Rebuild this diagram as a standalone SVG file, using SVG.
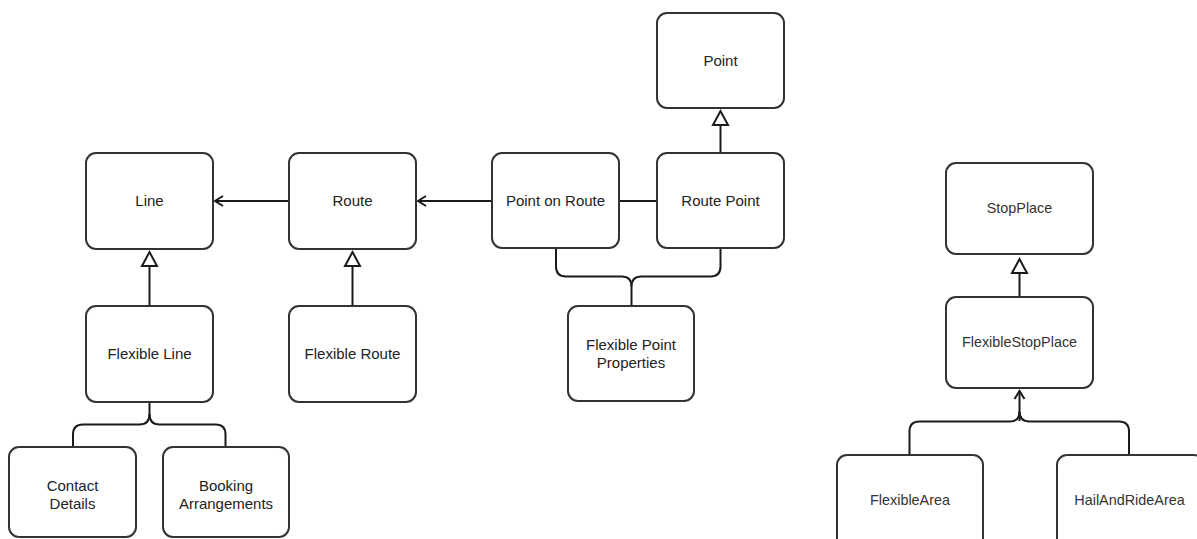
<svg xmlns="http://www.w3.org/2000/svg" width="1197" height="539" viewBox="0 0 1197 539">
  <style>
    .box { fill: #ffffff; stroke: #333333; stroke-width: 2; }
    .lbl { font-family: "Liberation Sans", Arial, sans-serif; font-size: 15px; fill: #222222; text-anchor: middle; }
    .lbl2 { font-family: "Liberation Sans", Arial, sans-serif; font-size: 14.4px; fill: #333333; text-anchor: middle; }
    .edge { fill: none; stroke: #1a1a1a; stroke-width: 2; }
  </style>
  <defs>
    <!-- hollow triangle for generalisation -->
    <marker id="gen" markerUnits="userSpaceOnUse" markerWidth="20" markerHeight="20" viewBox="-2 -2 20 20" refX="14" refY="7.5" orient="auto" overflow="visible">
      <path d="M0,0 L14,7.5 L0,15 Z" fill="#ffffff" stroke="#1a1a1a" stroke-width="2" stroke-linejoin="miter"/>
    </marker>
    <!-- open arrowhead for association -->
    <marker id="open" markerUnits="userSpaceOnUse" markerWidth="14" markerHeight="14" viewBox="-2 -2 14 14" refX="8" refY="5" orient="auto" overflow="visible">
      <path d="M0,0 L8,5 L0,10" fill="none" stroke="#1a1a1a" stroke-width="2"/>
    </marker>
  </defs>

  <g id="connectors">
    <!-- associations -->
    <path class="edge" d="M289,201 H215" marker-end="url(#open)"/>
    <path class="edge" d="M492,201 H418" marker-end="url(#open)"/>
    <path class="edge" d="M619,201 H657"/>
    <path class="edge" d="M1019.5,421 V391" marker-end="url(#open)"/>
    <!-- generalisations -->
    <path class="edge" d="M149.5,306 V252" marker-end="url(#gen)"/>
    <path class="edge" d="M352.5,306 V252" marker-end="url(#gen)"/>
    <path class="edge" d="M720.5,153 V111" marker-end="url(#gen)"/>
    <path class="edge" d="M1019.5,297 V259" marker-end="url(#gen)"/>
    <!-- Flexible Line composition fan-out -->
    <path class="edge" d="M149.5,402 V414 Q149.5,424.5 139.5,424.5 H83 Q73,424.5 73,434.5 V447"/>
    <path class="edge" d="M149.5,414 Q149.5,424.5 159.5,424.5 H215.5 Q225.5,424.5 225.5,434.5 V447"/>
    <!-- Flexible Point Properties fan-in -->
    <path class="edge" d="M556,248 V266.5 Q556,276.5 566,276.5 H621.5 Q631.5,276.5 631.5,286.5 V306"/>
    <path class="edge" d="M720.5,248 V266.5 Q720.5,276.5 710.5,276.5 H641.5 Q631.5,276.5 631.5,286.5"/>
    <!-- area fan-in to FlexibleStopPlace -->
    <path class="edge" d="M909.5,455 V431.5 Q909.5,421.5 919.5,421.5 H1009.5 Q1019.5,421.5 1019.5,411.5"/>
    <path class="edge" d="M1129,455 V431.5 Q1129,421.5 1119,421.5 H1029.5 Q1019.5,421.5 1019.5,411.5"/>
  </g>

  <g id="node-line">
    <rect class="box" x="86" y="153" width="127" height="96" rx="10"/>
    <text class="lbl" x="149.5" y="206">Line</text>
  </g>
  <g id="node-route">
    <rect class="box" x="289" y="153" width="127" height="96" rx="10"/>
    <text class="lbl" x="352.5" y="206">Route</text>
  </g>
  <g id="node-point-on-route">
    <rect class="box" x="492" y="153" width="127" height="95" rx="10"/>
    <text class="lbl" x="555.5" y="206">Point on Route</text>
  </g>
  <g id="node-route-point">
    <rect class="box" x="657" y="153" width="127" height="95" rx="10"/>
    <text class="lbl" x="720.5" y="206">Route Point</text>
  </g>
  <g id="node-point">
    <rect class="box" x="657" y="13" width="127" height="95" rx="10"/>
    <text class="lbl" x="720.5" y="66">Point</text>
  </g>
  <g id="node-flexible-line">
    <rect class="box" x="86" y="306" width="127" height="96" rx="10"/>
    <text class="lbl" x="149.5" y="359">Flexible Line</text>
  </g>
  <g id="node-flexible-route">
    <rect class="box" x="289" y="306" width="127" height="96" rx="10"/>
    <text class="lbl" x="352.5" y="359">Flexible Route</text>
  </g>
  <g id="node-flexible-point-properties">
    <rect class="box" x="568" y="306" width="126" height="95" rx="10"/>
    <text class="lbl" x="631" y="350">Flexible Point</text>
    <text class="lbl" x="631" y="367.5">Properties</text>
  </g>
  <g id="node-contact-details">
    <rect class="box" x="9" y="447" width="127" height="90" rx="10"/>
    <text class="lbl" x="72.5" y="491">Contact</text>
    <text class="lbl" x="72.5" y="508.5">Details</text>
  </g>
  <g id="node-booking-arrangements">
    <rect class="box" x="163" y="447" width="126" height="90" rx="10"/>
    <text class="lbl" x="226" y="491">Booking</text>
    <text class="lbl" x="226" y="508.5">Arrangements</text>
  </g>
  <g id="node-stop-place">
    <rect class="box" x="946" y="163" width="147" height="91" rx="10"/>
    <text class="lbl2" x="1019.5" y="213">StopPlace</text>
  </g>
  <g id="node-flexible-stop-place">
    <rect class="box" x="946" y="297" width="147" height="91" rx="10"/>
    <text class="lbl2" x="1019.5" y="347">FlexibleStopPlace</text>
  </g>
  <g id="node-flexible-area">
    <rect class="box" x="837" y="455" width="146" height="100" rx="10"/>
    <text class="lbl2" x="910" y="505">FlexibleArea</text>
  </g>
  <g id="node-hail-and-ride-area">
    <rect class="box" x="1057" y="455" width="147" height="100" rx="10"/>
    <text class="lbl2" x="1129.5" y="505">HailAndRideArea</text>
  </g>
</svg>
